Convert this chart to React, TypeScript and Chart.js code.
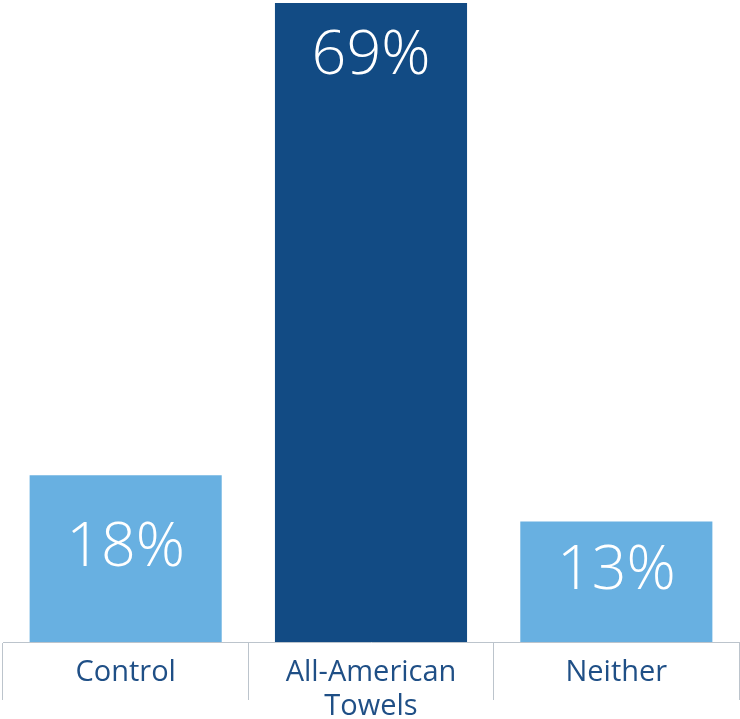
import React, { useEffect, useRef } from "react";
import { Chart, registerables } from "chart.js";

Chart.register(...registerables);

const categories: (string | string[])[] = ["Control", ["All-American", "Towels"], "Neither"];
const values: number[] = [18, 69, 13];
const valueLabels: string[] = ["18%", "69%", "13%"];
const barColors: string[] = ["#68B0E1", "#124B84", "#68B0E1"];

const FONT = "'Open Sans', 'DejaVu Sans', sans-serif";

const valueLabelPlugin = {
  id: "valueLabels",
  afterDatasetsDraw(chart: any) {
    const ctx = chart.ctx;
    const meta = chart.getDatasetMeta(0);
    ctx.save();
    ctx.fillStyle = "#FFFFFF";
    ctx.textAlign = "center";
    ctx.textBaseline = "middle";
    ctx.font = `300 61px ${FONT}`;
    meta.data.forEach((bar: any, i: number) => {
      const top = bar.y;
      const bottom = bar.base;
      const h = bottom - top;
      const y = h > 250 ? top + 54 : (top + bottom) / 2 - 10;
      ctx.fillText(valueLabels[i], bar.x, y);
    });
    ctx.restore();
  },
};

export default function App() {
  const ref = useRef<HTMLCanvasElement | null>(null);
  useEffect(() => {
    if (!ref.current) return;
    const chart = new Chart(ref.current, {
      type: "bar",
      data: {
        labels: categories,
        datasets: [
          {
            data: values,
            backgroundColor: barColors,
            borderWidth: 0,
            categoryPercentage: 1,
            barPercentage: 0.783,
          },
        ],
      },
      options: {
        responsive: false,
        animation: false,
        layout: { padding: { left: 3, right: 1, top: 3, bottom: 0 } },
        plugins: { legend: { display: false }, tooltip: { enabled: false } },
        scales: {
          x: {
            offset: true,
            afterFit: (scale: any) => {
              scale.height = 77;
            },
            grid: {
              display: true,
              offset: true,
              drawOnChartArea: false,
              drawTicks: true,
              tickLength: 58,
              color: "#BCC4CC",
              lineWidth: 1,
            },
            border: { display: true, color: "#BCC4CC", width: 1 },
            ticks: {
              color: "#1F4F86",
              font: { family: FONT, size: 29, lineHeight: 1.2 },
              padding: -45,
              maxRotation: 0,
              autoSkip: false,
            },
          },
          y: {
            display: false,
            min: 0,
            max: 69,
          },
        },
      },
      plugins: [valueLabelPlugin],
    });
    return () => chart.destroy();
  }, []);
  return (
    <div style={{ position: "absolute", left: 0, top: 0, width: 740, height: 719 }}>
      <canvas ref={ref} width={740} height={719} />
    </div>
  );
}
